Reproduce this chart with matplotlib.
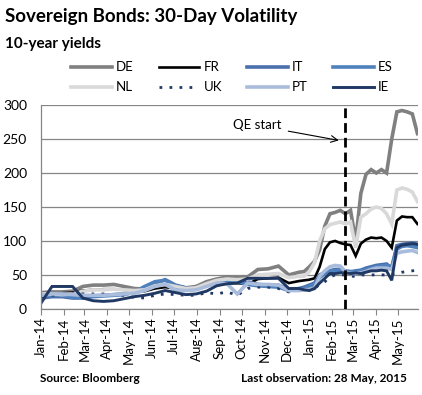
import matplotlib
matplotlib.use("Agg")
import matplotlib.pyplot as plt
import matplotlib.dates as mdates
import pandas as pd

plt.rcParams["font.family"] = ["Lato", "DejaVu Sans"]

# ---------------------------------------------------------------------------
# Data (fortnightly through 2014, weekly in 2015)
# ---------------------------------------------------------------------------

dates = list(pd.date_range("2014-01-02", "2014-12-18", freq="14D")) + \
    list(pd.date_range("2014-12-25", "2015-05-28", freq="7D"))

DE = [24, 25, 25, 26, 33, 35, 35, 36, 33, 30, 29, 34, 34, 34, 31, 33, 40, 44, 47, 46,
      47, 58, 59, 63, 50, 54,
      55, 62, 70, 87, 122, 140, 142, 145, 140, 145, 100, 170, 198, 205, 200, 205, 200,
      250, 290, 292, 290, 287, 258]
NL = [22, 22, 21, 22, 26, 28, 28, 29, 28, 27, 28, 34, 36, 33, 30, 31, 37, 42, 44, 43,
      44, 50, 51, 52, 46, 48,
      48, 55, 68, 100, 118, 124, 126, 128, 125, 128, 90, 135, 140, 147, 150, 148, 140,
      125, 175, 178, 176, 172, 158]
FR = [20, 22, 23, 24, 27, 28, 29, 29, 28, 26, 26, 30, 32, 30, 28, 29, 34, 38, 38, 38,
      36, 44, 45, 46, 38, 41,
      42, 43, 45, 62, 88, 98, 100, 97, 95, 94, 78, 96, 102, 105, 104, 105, 100,
      90, 130, 136, 135, 135, 125]
IT = [16, 18, 18, 16, 16, 19, 20, 21, 22, 24, 30, 38, 43, 35, 31, 30, 36, 40, 43, 43,
      40, 36, 35, 35, 28, 30,
      32, 35, 38, 50, 53, 56, 58, 58, 55, 54, 56, 57, 60, 62, 64, 65, 66,
      60, 93, 95, 96, 97, 95]
ES = [18, 20, 20, 17, 17, 18, 19, 20, 21, 25, 33, 40, 42, 34, 30, 29, 34, 38, 41, 40,
      36, 34, 33, 32, 27, 29,
      30, 33, 36, 46, 52, 55, 56, 57, 56, 55, 55, 56, 58, 60, 62, 63, 64,
      62, 88, 92, 93, 92, 90]
UK = [18, 20, 22, 22, 22, 22, 22, 21, 20, 17, 16, 20, 22, 21, 20, 20, 24, 22, 25, 20,
      30, 32, 32, 30, 25, 28,
      28, 30, 30, 36, 40, 47, 50, 50, 50, 48, 48, 50, 50, 50, 50, 50, 50,
      51, 52, 54, 55, 56, 57]
PT = [20, 22, 22, 21, 20, 20, 20, 21, 22, 23, 27, 33, 36, 28, 27, 28, 33, 38, 37, 22,
      38, 36, 36, 35, 27, 27,
      28, 29, 30, 48, 56, 62, 64, 63, 55, 52, 52, 53, 55, 58, 60, 60, 60,
      58, 82, 84, 85, 86, 83]
IE = [10, 33, 33, 33, 16, 12, 11, 12, 15, 18, 20, 23, 27, 24, 21, 22, 26, 34, 37, 38,
      45, 45, 45, 45, 30, 30,
      28, 27, 30, 38, 45, 52, 52, 53, 53, 52, 53, 52, 54, 56, 56, 57, 56,
      42, 90, 94, 95, 96, 95]

qe_date = pd.Timestamp("2015-02-19")
y_ticks = [0, 50, 100, 150, 200, 250, 300]


fig = plt.figure(figsize=(4.22, 3.95), dpi=100)
ax = fig.add_axes([0.097, 0.218, 0.894, 0.516])

series = [
    ("DE", DE, dict(color="#808080", lw=2.6)),
    ("FR", FR, dict(color="#000000", lw=1.9)),
    ("IT", IT, dict(color="#4a70ad", lw=2.6)),
    ("ES", ES, dict(color="#4f81bd", lw=2.6)),
    ("NL", NL, dict(color="#d9d9d9", lw=2.6)),
    ("UK", UK, dict(color="#1f3864", lw=2.0, linestyle=(0, (1, 2.6)))),
    ("PT", PT, dict(color="#a9bcdc", lw=2.6)),
    ("IE", IE, dict(color="#1f3864", lw=2.1)),
]
handles = {}
for name, vals, style in series:
    (line,) = ax.plot(dates, vals, label=name, solid_joinstyle="miter", **style)
    handles[name] = line

ax.axvline(qe_date, color="black", lw=2.0, linestyle=(0, (3.5, 1.8)), zorder=5)
ax.annotate("QE start", xy=(pd.Timestamp("2015-02-10"), 248),
            xytext=(pd.Timestamp("2014-11-24"), 270), fontsize=9.5,
            ha="right", va="center",
            arrowprops=dict(arrowstyle="->", lw=0.8, color="black",
                            shrinkA=3, shrinkB=0, mutation_scale=12))

ax.set_ylim(0, 300)
ax.set_yticks(y_ticks)
ax.set_xlim(pd.Timestamp("2014-01-01"), pd.Timestamp("2015-05-29"))
ax.xaxis.set_major_locator(mdates.MonthLocator())
ax.xaxis.set_major_formatter(mdates.DateFormatter("%b-%y"))
ax.tick_params(axis="x", rotation=90, labelsize=9.5, length=4, color="#868686",
               direction="out", pad=2)
ax.tick_params(axis="y", labelsize=10, length=0, pad=10)
ax.grid(axis="y", color="#868686", lw=0.9)
ax.set_axisbelow(True)
for side in ("top", "right"):
    ax.spines[side].set_visible(False)
for side in ("left", "bottom"):
    ax.spines[side].set_color("#868686")
    ax.spines[side].set_linewidth(0.9)

fig.text(0.012, 0.957, "Sovereign Bonds: 30-Day Volatility", fontsize=13.5,
         fontweight="bold", va="center")
fig.text(0.012, 0.888, "10-year yields", fontsize=11, fontweight="bold", va="center")

# matplotlib fills legend columns first, so interleave the two rows
order = ["DE", "NL", "FR", "UK", "IT", "PT", "ES", "IE"]
fig.legend([handles[n] for n in order], order, loc="upper left",
           bbox_to_anchor=(0.168, 0.845), ncol=4, frameon=False,
           fontsize=9.5, handlelength=3.1, handletextpad=0.3, columnspacing=1.9,
           labelspacing=0.6, borderaxespad=0, borderpad=0)

fig.text(0.095, 0.043, "Source: Bloomberg", fontsize=8.5, fontweight="bold", va="center")
fig.text(0.965, 0.043, "Last observation: 28 May, 2015", fontsize=8.5,
         fontweight="bold", va="center", ha="right")

fig.savefig("out.png", dpi=100)
